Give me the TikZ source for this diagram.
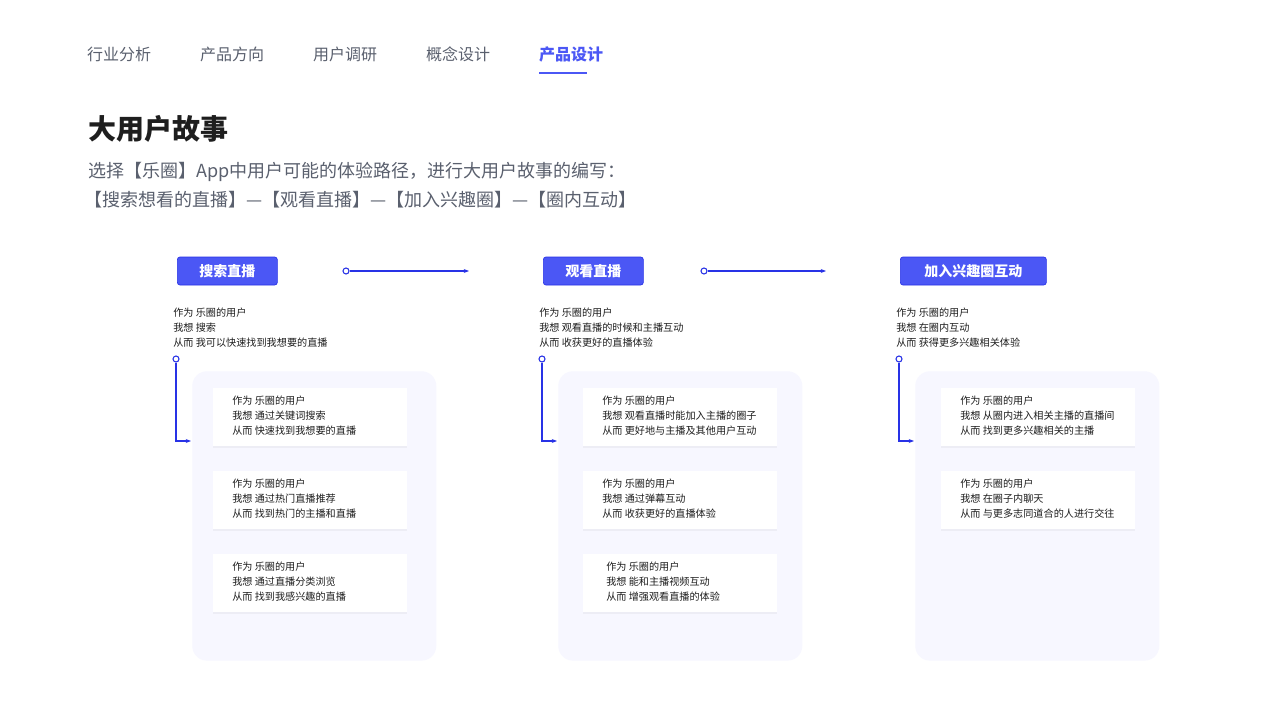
\documentclass[tikz,border=0pt]{standalone}
\usepackage{fontspec}
\setmainfont{Noto Sans CJK SC}
\usetikzlibrary{positioning, shadows, calc, arrows.meta}
\definecolor{brandblue}{RGB}{75,87,245}
\definecolor{lineblue}{RGB}{40,50,230}
\definecolor{navgray}{RGB}{90,96,110}
\definecolor{panelbg}{RGB}{247,247,255}
\definecolor{textdark}{RGB}{30,30,30}
\tikzset{
  nav/.style={font=\fontsize{12}{14}\selectfont, text=navgray},
  tag/.style={rectangle, rounded corners=2pt, fill=brandblue, draw=lineblue, line width=0.5pt, text=white, font=\fontsize{10.5}{12}\selectfont\bfseries, minimum height=21pt, inner xsep=0pt},
  story/.style={anchor=north west, align=left, inner sep=0pt, font=\fontsize{7.6}{11}\selectfont, text=textdark},
  panel/.style={rectangle, rounded corners=11pt, fill=panelbg, anchor=north west, minimum width=183pt, minimum height=217pt},
  card/.style={rectangle, fill=white, anchor=north west, minimum width=145.5pt, minimum height=43.5pt, drop shadow={shadow xshift=0pt, shadow yshift=-1pt, opacity=0.08}},
  flow/.style={-{Stealth[length=4pt]}, lineblue, line width=0.8pt},
  dot/.style={circle, draw=lineblue, fill=white, line width=0.8pt, inner sep=0pt, minimum size=4.5pt}
}
\begin{document}
\begin{tikzpicture}[x=0.75pt, y=-0.75pt]
\useasboundingbox[fill=white] (0,0) rectangle (1280,727);
% Navigation
\node[nav] (n1) at (119,54) {行业分析};
\node[nav] (n2) at (232,54) {产品方向};
\node[nav] (n3) at (345,54) {用户调研};
\node[nav] (n4) at (458,54) {概念设计};
\node[nav, text=brandblue, font=\fontsize{12}{14}\selectfont\bfseries] (n5) at (571,54) {产品设计};
\draw[brandblue, line width=2.2pt] (539,73) -- (587,73);

% Heading
\node[anchor=west, inner sep=0pt, font=\fontsize{21}{24}\selectfont\bfseries, text=textdark] (title) at (88,129) {大用户故事};
\node[anchor=west, inner sep=0pt, font=\fontsize{13.5}{16}\selectfont, text=navgray] (sub1) at (88,172) {选择【乐圈】App中用户可能的体验路径，进行大用户故事的编写：};
\node[anchor=west, inner sep=0pt, font=\fontsize{13.5}{16}\selectfont, text=navgray] (sub2) at (84,200) {【搜索想看的直播】—【观看直播】—【加入兴趣圈】—【圈内互动】};

% Columns
\foreach \i/\dx/\tagw/\tagtxt/\lead in {1/0/75/搜索直播/{作为 乐圈的用户\\我想 搜索\\从而 我可以快速找到我想要的直播},
  2/366/75/观看直播/{作为 乐圈的用户\\我想 观看直播的时候和主播互动\\从而 收获更好的直播体验},
  3/723/109.5/加入兴趣圈互动/{作为 乐圈的用户\\我想 在圈内互动\\从而 获得更多兴趣相关体验}} {
  \node[tag, minimum width=\tagw pt, anchor=west] (tag\i) at (177+\dx,271) {\tagtxt};
  \node[story] (lead\i) at (173+\dx,308) {\lead};
  \node[panel] (panel\i) at (192+\dx,371) {};
  \node[dot] (top\i) at (176+\dx,359) {};
  \coordinate (turn\i) at (176+\dx,441);
  \coordinate (end\i) at (191+\dx,441);
  \draw[flow] (top\i) -- (turn\i) -- (end\i);
}
\node[dot] (a1) at (346,271) {};
\coordinate (b1) at (469,271);
\draw[flow] (a1) -- (b1);
\node[dot] (a2) at (704,271) {};
\coordinate (b2) at (826,271);
\draw[flow] (a2) -- (b2);

% Cards
\foreach \dx/\y/\txt/\nm in {
  0/388/{作为 乐圈的用户\\我想 通过关键词搜索\\从而 快速找到我想要的直播}/c11,
  0/471/{作为 乐圈的用户\\我想 通过热门直播推荐\\从而 找到热门的主播和直播}/c12,
  0/554/{作为 乐圈的用户\\我想 通过直播分类浏览\\从而 找到我感兴趣的直播}/c13,
  370/388/{作为 乐圈的用户\\我想 观看直播时能加入主播的圈子\\从而 更好地与主播及其他用户互动}/c21,
  370/471/{作为 乐圈的用户\\我想 通过弹幕互动\\从而 收获更好的直播体验}/c22,
  370/554/{\hspace{3pt}作为 乐圈的用户\\\hspace{3pt}我想 能和主播视频互动\\\hspace{3pt}从而 增强观看直播的体验}/c23,
  728/388/{作为 乐圈的用户\\我想 从圈内进入相关主播的直播间\\从而 找到更多兴趣相关的主播}/c31,
  728/471/{作为 乐圈的用户\\我想 在圈子内聊天\\从而 与更多志同道合的人进行交往}/c32} {
  \node[card] (\nm) at (213+\dx,\y) {};
  \node[story] at (232+\dx,\y+8) {\txt};
}
\end{tikzpicture}
\end{document}
